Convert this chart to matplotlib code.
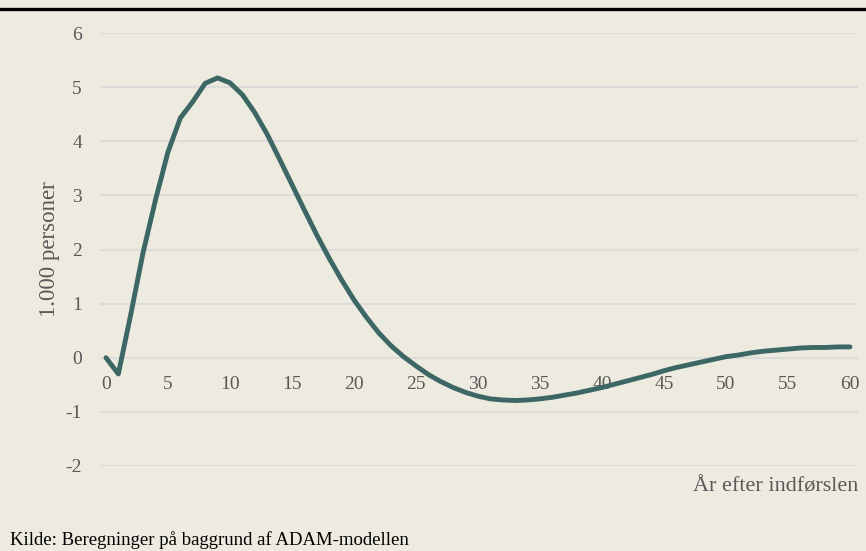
import matplotlib
matplotlib.use('Agg')
import matplotlib.pyplot as plt
from matplotlib.lines import Line2D

### Data (1.000 personer per year after introduction)
years = list(range(0, 61))
persons = [0.00, -0.30, 0.80, 1.95, 2.92, 3.80, 4.43, 4.73, 5.07, 5.17,
           5.08, 4.86, 4.53, 4.13, 3.67, 3.20, 2.73, 2.27, 1.84, 1.44,
           1.07, 0.75, 0.46, 0.22, 0.02, -0.15, -0.31, -0.44, -0.55, -0.64,
           -0.71, -0.76, -0.78, -0.79, -0.78, -0.76, -0.73, -0.69, -0.65, -0.60,
           -0.55, -0.49, -0.43, -0.37, -0.31, -0.24, -0.18, -0.13, -0.08, -0.03,
           0.02, 0.05, 0.09, 0.12, 0.14, 0.16, 0.18, 0.19, 0.19, 0.20,
           0.20]
xTicks = [0, 5, 10, 15, 20, 25, 30, 35, 40, 45, 50, 55, 60]
yTicks = [-2, -1, 0, 1, 2, 3, 4, 5, 6]

bgColor = '#EDEAE0'
lineColor = '#3D6764'
gridColor = '#DCDCDA'
textColor = '#595959'
fontName = 'Liberation Serif'

fig = plt.figure(figsize=(8.66, 5.51), dpi=100, facecolor=bgColor)
ax = fig.add_axes([100/866, 1 - 466/551, 758/866, 433/551])
ax.set_facecolor(bgColor)

### Gridlines and series
for yv in yTicks:
    ax.axhline(yv, color=gridColor, linewidth=1.5, zorder=1)
ax.plot(years, persons, color=lineColor, linewidth=3.5, solid_joinstyle='round',
        solid_capstyle='round', zorder=3)

ax.set_xlim(-0.48, 60.65)
ax.set_ylim(-2, 6)
for s in ax.spines.values():
    s.set_visible(False)
ax.spines['bottom'].set_position(('data', 0))

ax.set_xticks(xTicks)
ax.set_yticks(yTicks)
ax.set_yticklabels([str(v) for v in yTicks])
ax.tick_params(axis='both', length=0, labelsize=14, labelcolor=textColor)
ax.tick_params(axis='x', pad=13)
ax.tick_params(axis='y', pad=13)
for lbl in ax.get_xticklabels() + ax.get_yticklabels():
    lbl.set_fontfamily(fontName)

ax.set_ylabel('1.000 personer', fontsize=16.5, color=textColor, fontfamily=fontName, labelpad=4)
fig.text(858/866, 1 - 487/551, 'År efter indførslen', ha='right', va='center',
         fontsize=16, color=textColor, fontfamily=fontName)

### Footer and top rule
fig.text(10/866, 1 - 540/551, 'Kilde: Beregninger på baggrund af ADAM-modellen', ha='left', va='center',
         fontsize=13.5, color='black', fontfamily=fontName)
fig.add_artist(Line2D([0, 1], [1 - 8.5/551, 1 - 8.5/551], transform=fig.transFigure,
                      color='black', linewidth=2.4))

fig.savefig('out.png', dpi=100, facecolor=bgColor)
